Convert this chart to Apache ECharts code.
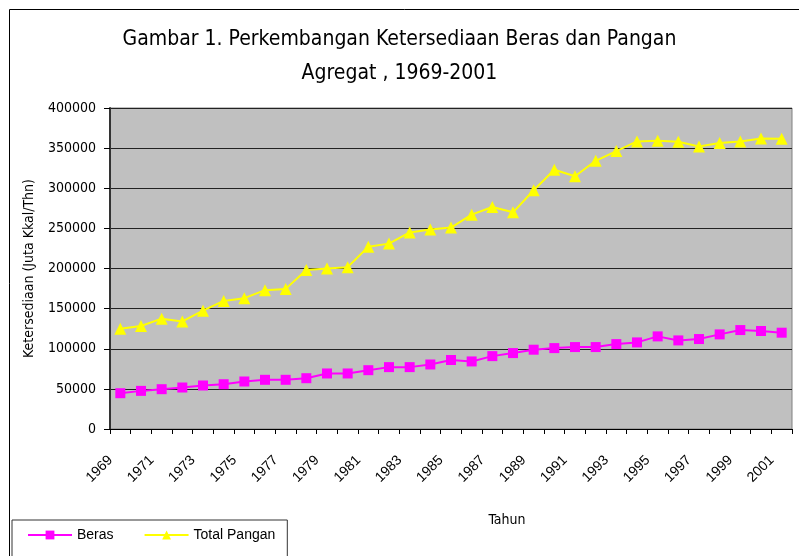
<!DOCTYPE html>
<html><head><meta charset="utf-8">
<script src="https://cdn.jsdelivr.net/npm/echarts@6/dist/echarts.min.js"></script>
<style>html,body{margin:0;padding:0;background:#fff}#c{width:799px;height:556px}</style>
</head><body><div id="c"></div>
<script>
const years = ['1969','1970','1971','1972','1973','1974','1975','1976','1977','1978','1979','1980','1981','1982','1983','1984','1985','1986','1987','1988','1989','1990','1991','1992','1993','1994','1995','1996','1997','1998','1999','2000','2001'];
const beras = [44600,47500,49600,51700,54200,55800,59200,61300,61300,63300,69200,69200,73300,77100,77100,80400,86000,84200,90800,94600,98800,100800,102100,102100,105800,107900,115400,110400,112100,117900,123300,122100,120000];
const totalPangan = [125000,128300,137500,134000,147500,159600,163000,173000,174600,198000,200000,201700,227000,231000,245000,248700,251000,267100,276700,270000,297500,323000,315000,334200,346300,358300,359200,358000,352100,356300,358300,362100,361700];
const titleLines = 'Gambar 1. Perkembangan Ketersediaan Beras dan Pangan\nAgregat , 1969-2001';
const yName = 'Ketersediaan (Juta Kkal/Thn)';
const xName = 'Tahun';

const NARROW = '"Liberation Sans Narrow", "DejaVu Sans Condensed", "Liberation Sans", sans-serif';
const SANS = '"Liberation Sans", Arial, sans-serif';
const chart = echarts.init(document.getElementById('c'));
chart.setOption({
  animation: false,
  backgroundColor: '#fff',
  textStyle: {fontFamily: NARROW},
  graphic: [{type:'rect', shape:{x:9.5,y:9.5,width:800,height:560}, style:{fill:'none', stroke:'#000', lineWidth:1}, z:-1}],
  title: {
    text: titleLines, left: 'center', top: 18,
    textStyle: {fontFamily: NARROW, fontSize: 21, fontWeight: 'normal', color: '#000', lineHeight: 34}
  },
  legend: {
    left: 12, top: 520,
    data: ['Beras', 'Total Pangan'],
    itemWidth: 44, itemHeight: 11, itemGap: 30,
    padding: [8, 12, 20, 15],
    borderColor: '#333', borderWidth: 1,
    lineStyle: {width: 2},
    textStyle: {fontFamily: SANS, fontSize: 14, color: '#000'}
  },
  grid: {left: 110, top: 108, right: 7, bottom: 127, show: true, backgroundColor: '#c0c0c0', borderColor: '#808080', borderWidth: 1},
  xAxis: {
    type: 'category', data: years, boundaryGap: true,
    name: xName, nameLocation: 'middle', nameGap: 84,
    nameTextStyle: {fontFamily: NARROW, fontSize: 14, color: '#000', padding: [0, 0, 0, 112]},
    axisLine: {lineStyle: {color: '#000', width: 1}},
    axisTick: {show: true, interval: 0, length: 5, lineStyle: {color: '#000'}},
    axisLabel: {interval: 1, rotate: 45, fontFamily: SANS, fontSize: 14, color: '#000', margin: 19, padding: [0, 14, 0, 0]}
  },
  yAxis: {
    type: 'value', min: 0, max: 400000, interval: 50000,
    name: yName, nameLocation: 'middle', nameGap: 74, nameRotate: 90,
    nameTextStyle: {fontFamily: NARROW, fontSize: 14, color: '#000'},
    axisLine: {show: true, lineStyle: {color: '#333', width: 2}},
    axisTick: {show: true, length: 6, lineStyle: {color: '#000'}},
    axisLabel: {fontFamily: NARROW, fontSize: 14, color: '#000', margin: 14, formatter: v => String(v)},
    splitLine: {show: true, lineStyle: {color: '#222', width: 1}}
  },
  series: [
    {name: 'Beras', type: 'line', data: beras, symbol: 'rect', symbolSize: 10,
     lineStyle: {color: '#ff00ff', width: 2}, itemStyle: {color: '#ff00ff'}},
    {name: 'Total Pangan', type: 'line', data: totalPangan, symbol: 'triangle', symbolSize: 12,
     lineStyle: {color: '#ffff00', width: 2}, itemStyle: {color: '#ffff00'}}
  ]
});
</script></body></html>
